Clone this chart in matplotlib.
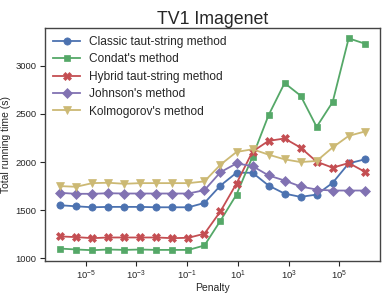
import matplotlib
matplotlib.use("Agg")
import matplotlib.pyplot as plt

plt.rcParams['font.family'] = ['Liberation Sans', 'DejaVu Sans']

penalty = [1e-6, 4.28e-6, 1.83e-5, 7.85e-5, 3.36e-4, 1.44e-3, 6.16e-3, 2.64e-2,
           1.13e-1, 4.83e-1, 2.07, 8.86, 37.9, 162.0, 695.0, 2976.0, 12743.0,
           54556.0, 233572.0, 1e6]

classic = [1551, 1540, 1530, 1534, 1534, 1534, 1530, 1530, 1530, 1575,
           1756, 1889, 1889, 1756, 1672, 1638, 1662, 1784, 1986, 2028]
condat = [1101, 1091, 1084, 1091, 1087, 1091, 1087, 1087, 1087, 1133,
          1391, 1662, 2056, 2486, 2821, 2690, 2366, 2624, 3286, 3231]
hybrid = [1227, 1220, 1209, 1216, 1216, 1216, 1216, 1209, 1213, 1255,
          1488, 1777, 2109, 2220, 2245, 2150, 2004, 1941, 1990, 1900]
johnson = [1680, 1670, 1670, 1676, 1673, 1673, 1673, 1673, 1673, 1708,
           1895, 1986, 1958, 1861, 1808, 1746, 1714, 1704, 1704, 1704]
kolmogorov = [1750, 1743, 1781, 1785, 1774, 1781, 1781, 1781, 1781, 1799,
              1973, 2105, 2133, 2077, 2028, 2000, 2011, 2152, 2272, 2317]

series = [
    ("Classic taut-string method", classic, "#4C72B0", "o", 5.2),
    ("Condat's method", condat, "#55A868", "s", 5.0),
    ("Hybrid taut-string method", hybrid, "#C44E52", "X", 5.5),
    ("Johnson's method", johnson, "#8172B2", "D", 4.6),
    ("Kolmogorov's method", kolmogorov, "#CCB974", "v", 5.5),
]

xticks = [1e-5, 1e-3, 1e-1, 1e1, 1e3, 1e5]
yticks = [1000, 1500, 2000, 2500, 3000]

text_c = "#262626"
fig = plt.figure(figsize=(3.83, 2.95), dpi=100)
ax = fig.add_axes([0.1175, 0.116, 0.8745, 0.79])

for name, vals, col, mk, ms in series:
    ax.plot(penalty, vals, color=col, marker=mk, markersize=ms, lw=1.3,
            label=name, markeredgewidth=0.5, markeredgecolor=col)

ax.set_xscale('log')
ax.set_xticks(xticks)
ax.minorticks_off()
ax.set_yticks(yticks)
ax.tick_params(labelsize=6.8, colors=text_c, length=3.5, width=0.8,
               direction='out', pad=2.5)
for s in ax.spines.values():
    s.set_color('#444444')
    s.set_linewidth(1.0)

ax.set_title("TV1 Imagenet", fontsize=12.8, color=text_c, pad=3)
ax.set_xlabel("Penalty", fontsize=7.5, color=text_c, labelpad=0.5)
ax.set_ylabel("Total running time (s)", fontsize=7.5, color=text_c, labelpad=3)

leg = ax.legend(loc='upper left', frameon=False, fontsize=8.6,
                borderaxespad=0.3, handlelength=2.2, labelspacing=0.45)
for t in leg.get_texts():
    t.set_color(text_c)

fig.savefig("out.png", dpi=100)
